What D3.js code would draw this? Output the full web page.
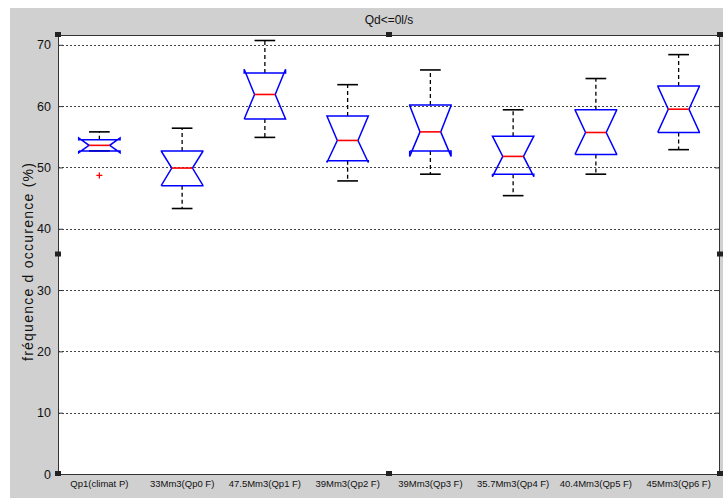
<!DOCTYPE html>
<html>
<head>
<meta charset="utf-8">
<script src="https://cdn.jsdelivr.net/npm/d3@7"></script>
<style>
  body { margin: 0; background: #fff; }
  svg { display: block; }
</style>
</head>
<body>
<svg id="chart"></svg>
<script>
var W = 723, H = 498
var margin = {top: 35, right: 3, bottom: 24, left: 58}

var categories = ["Qp1(climat P)", "33Mm3(Qp0 F)", "47.5Mm3(Qp1 F)", "39Mm3(Qp2 F)",
                  "39Mm3(Qp3 F)", "35.7Mm3(Qp4 F)", "40.4Mm3(Qp5 F)", "45Mm3(Qp6 F)"]
var whiskerLow  = [52.7, 43.3, 54.9, 47.8, 48.9, 45.4, 48.9, 52.9]
var q1          = [52.7, 47.0, 57.9, 51.1, 52.7, 48.9, 52.1, 55.7]
var median      = [53.6, 49.9, 61.9, 54.4, 55.8, 51.8, 55.7, 59.5]
var q3          = [54.5, 52.7, 65.4, 58.4, 60.2, 55.1, 59.4, 63.3]
var whiskerHigh = [55.8, 56.4, 70.7, 63.5, 65.9, 59.4, 64.5, 68.4]
var notchLo     = [52.4, 47.1, 57.9, 50.8, 51.8, 48.5, 52.2, 55.8]
var notchHi     = [54.8, 52.6, 66.0, 58.4, 60.1, 55.1, 59.3, 63.2]
var outliers    = [{cat: 0, value: 48.7}]
var yTicks = [0, 10, 20, 30, 40, 50, 60, 70]

var font = "Liberation Sans, Arial, sans-serif"
var svg = d3.select("#chart").attr("width", W).attr("height", H)

// grey figure background
svg.append("rect").attr("x", 10).attr("y", 8).attr("width", W - 10).attr("height", H - 8)
  .attr("fill", "#d0d0d0")

var x = d3.scaleBand().domain(d3.range(categories.length))
  .range([margin.left, W - margin.right]).padding(0)
var y = d3.scaleLinear().domain([0, 71.6]).range([H - margin.bottom, margin.top])

var x0 = margin.left, x1 = W - margin.right, yb = H - margin.bottom, yt = margin.top

svg.append("rect").attr("x", x0).attr("y", yt).attr("width", x1 - x0).attr("height", yb - yt)
  .attr("fill", "#fff")

// grid
svg.append("g").selectAll("line").data(yTicks.filter(d => d > 0)).join("line")
  .attr("x1", x0).attr("x2", x1)
  .attr("y1", d => Math.round(y(d)) + 0.5).attr("y2", d => Math.round(y(d)) + 0.5)
  .attr("stroke", "#444").attr("stroke-width", 1).attr("stroke-dasharray", "2,2")

// y axis
var yAxis = svg.append("g").attr("transform", "translate(" + x0 + ",0)")
  .call(d3.axisLeft(y).tickValues(yTicks).tickSize(-5).tickPadding(7))
yAxis.select(".domain").remove()
yAxis.selectAll("line").attr("stroke", "#333")
yAxis.selectAll("text").attr("font-family", font)
  .attr("font-size", "12.5px").attr("fill", "#111")
svg.append("g").attr("transform", "translate(" + x1 + ",0)")
  .call(d3.axisRight(y).tickValues(yTicks).tickSize(-5).tickFormat(""))
  .call(g => g.select(".domain").remove())
  .selectAll("line").attr("stroke", "#333")

// plot border
svg.append("rect").attr("x", x0 + 0.5).attr("y", yt + 0.5).attr("width", x1 - x0 - 1).attr("height", yb - yt)
  .attr("fill", "none").attr("stroke", "#333").attr("stroke-width", 1)

// x labels
svg.append("g").selectAll("text").data(categories).join("text")
  .attr("x", (d, i) => x(i) + x.bandwidth() / 2)
  .attr("y", yb + 13)
  .attr("text-anchor", "middle")
  .attr("font-family", font)
  .attr("font-size", "9.5px").attr("fill", "#111")
  .text(d => d)

// title & y label
svg.append("text").attr("x", (x0 + x1) / 2).attr("y", 24).attr("text-anchor", "middle")
  .attr("font-family", font).attr("font-size", "12px")
  .attr("fill", "#111").text("Qd<=0l/s")
svg.append("text").attr("transform", "translate(33,262) rotate(-90)")
  .attr("text-anchor", "middle")
  .attr("font-family", font).attr("font-size", "14px")
  .attr("textLength", 198).attr("lengthAdjust", "spacing")
  .attr("fill", "#111").text("fréquence d occurence (%)")

// boxes
var boxes = svg.append("g").selectAll("g").data(categories).join("g")
var bw = x.bandwidth() / 2
boxes.each(function (d, i) {
  var g = d3.select(this)
  var cx = x(i) + x.bandwidth() / 2
  var L = cx - bw / 2, R = cx + bw / 2, nl = cx - bw / 4, nr = cx + bw / 4
  // whiskers
  g.append("line").attr("x1", cx).attr("x2", cx).attr("y1", y(q3[i])).attr("y2", y(whiskerHigh[i]))
    .attr("stroke", "#000").attr("stroke-width", 1.3).attr("stroke-dasharray", "4,3")
  g.append("line").attr("x1", cx).attr("x2", cx).attr("y1", y(q1[i])).attr("y2", y(whiskerLow[i]))
    .attr("stroke", "#000").attr("stroke-width", 1.3).attr("stroke-dasharray", "4,3")
  g.append("line").attr("x1", nl).attr("x2", nr).attr("y1", y(whiskerHigh[i])).attr("y2", y(whiskerHigh[i]))
    .attr("stroke", "#000").attr("stroke-width", 1.6)
  g.append("line").attr("x1", nl).attr("x2", nr).attr("y1", y(whiskerLow[i])).attr("y2", y(whiskerLow[i]))
    .attr("stroke", "#000").attr("stroke-width", 1.6)
  // notched box
  var pts = [[L, q1[i]], [L, notchLo[i]], [nl, median[i]], [L, notchHi[i]], [L, q3[i]],
             [R, q3[i]], [R, notchHi[i]], [nr, median[i]], [R, notchLo[i]], [R, q1[i]], [L, q1[i]]]
  g.append("path").attr("d", d3.line().x(p => p[0]).y(p => y(p[1]))(pts))
    .attr("fill", "none").attr("stroke", "#0000ff").attr("stroke-width", 1.5)
  g.append("line").attr("x1", nl).attr("x2", nr).attr("y1", y(median[i])).attr("y2", y(median[i]))
    .attr("stroke", "#ff0000").attr("stroke-width", 1.6)
})

// outliers
svg.append("g").selectAll("path").data(outliers).join("path")
  .attr("d", d => {
    var cx = x(d.cat) + x.bandwidth() / 2, cy = y(d.value)
    return "M" + (cx - 3) + "," + cy + "H" + (cx + 3) + "M" + cx + "," + (cy - 3) + "V" + (cy + 3)
  })
  .attr("stroke", "#ff0000").attr("stroke-width", 1.3)

// selection handles
var hx = [x0, (x0 + x1) / 2, x1], hy = [yt, (yt + yb) / 2, yb]
var handles = []
hx.forEach((a, i) => hy.forEach((b, j) => { if (!(i == 1 && j == 1)) handles.push([a, b]) }))
svg.append("g").selectAll("rect").data(handles).join("rect")
  .attr("x", d => d[0] - 3).attr("y", d => d[1] - 3).attr("width", 6).attr("height", 5)
  .attr("fill", "#222")
</script>
</body>
</html>
